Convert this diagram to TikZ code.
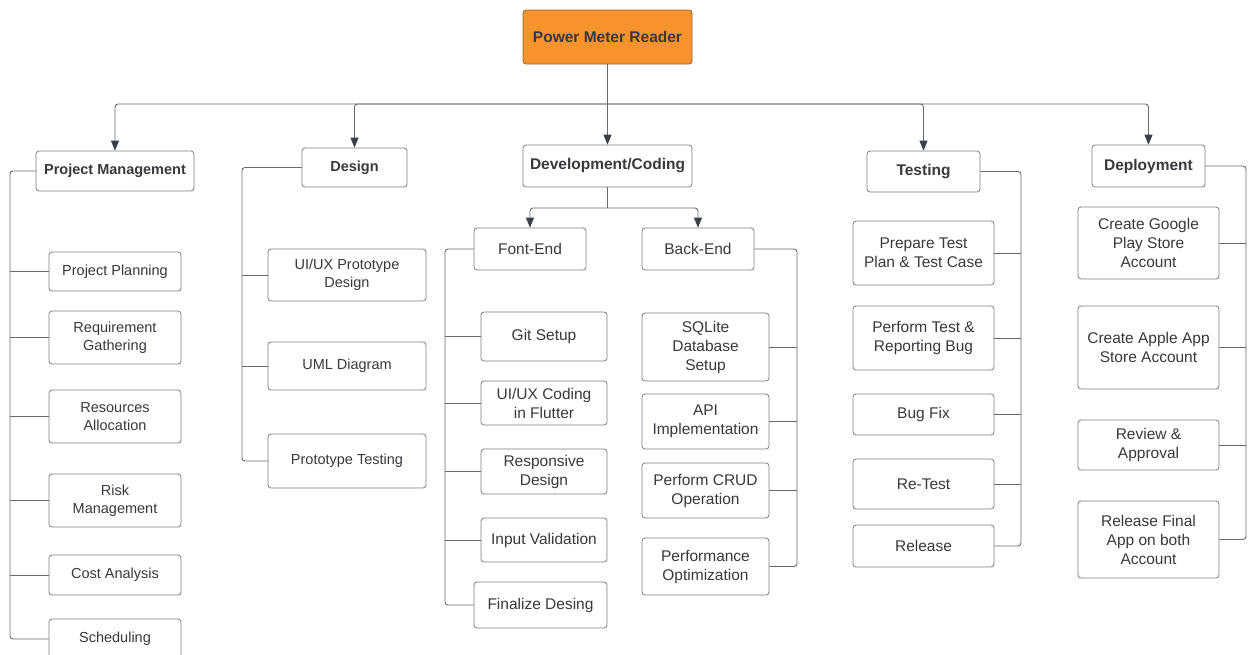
\documentclass[tikz,border=0pt]{standalone}
\usepackage{fontspec}
\setmainfont{Liberation Sans}
\usepackage{tikz}
\usetikzlibrary{arrows.meta}

\definecolor{rootorange}{RGB}{247,147,44}
\definecolor{rootedge}{RGB}{150,95,45}
\definecolor{boxgray}{RGB}{125,125,125}
\definecolor{linegray}{RGB}{105,105,105}
\definecolor{textgray}{RGB}{55,57,62}
\definecolor{tipgray}{RGB}{58,62,70}

\tikzset{
  phasebox/.style={draw=boxgray, line width=0.8pt, rounded corners=3pt, fill=white, text=textgray,
    font=\fontsize{14.5pt}{18pt}\selectfont\bfseries, align=center, inner sep=2pt},
  taskbox/.style={draw=boxgray, line width=0.8pt, rounded corners=3pt, fill=white, text=textgray,
    font=\fontsize{14.5pt}{18pt}\selectfont, align=center, inner sep=2pt},
  bigphase/.style={phasebox, font=\fontsize{15.5pt}{19pt}\selectfont\bfseries},
  bigtask/.style={taskbox, font=\fontsize{15.5pt}{19pt}\selectfont},
  link/.style={draw=linegray, line width=0.9pt, rounded corners=3pt},
  arrowlink/.style={link, -{Triangle[width=8pt,length=10pt,color=tipgray]}},
}

\begin{document}
\begin{tikzpicture}[x=1pt, y=-1pt]
  \clip (0,0) rectangle (1253,654);

  % Root
  \node[bigphase, fill=rootorange, draw=rootedge, minimum width=169pt, minimum height=54pt] (root) at (607.5,37) {Power Meter Reader};

  % Phases
  \node[phasebox, minimum width=158pt, minimum height=40pt] (pm) at (115,171) {Project Management};
  \node[phasebox, minimum width=105pt, minimum height=39pt] (design) at (354.5,167.5) {Design};
  \node[bigphase, minimum width=169pt, minimum height=42pt] (dev) at (607.5,166) {Development/Coding};
  \node[bigphase, minimum width=113pt, minimum height=41pt] (test) at (923.5,171.5) {Testing};
  \node[bigphase, minimum width=113pt, minimum height=42pt] (deploy) at (1148.5,166) {Deployment};

  % Root to phases
  \coordinate (bus) at (607.5,104);
  \draw[link] (root.south) -- (bus);
  \draw[arrowlink] (bus) -- (dev.north);
  \draw[arrowlink] (bus) -| (pm.north);
  \draw[arrowlink] (bus) -| (design.north);
  \draw[arrowlink] (bus) -| (test.north);
  \draw[arrowlink] (bus) -| (deploy.north);

  % Project Management
  \node[taskbox, minimum width=132pt, minimum height=39pt] (pp) at (115,271.5) {Project Planning};
  \node[taskbox, minimum width=132pt, minimum height=53pt] (rg) at (115,337.5) {Requirement\\Gathering};
  \node[taskbox, minimum width=132pt, minimum height=53pt] (ra) at (115,416.5) {Resources\\Allocation};
  \node[taskbox, minimum width=132pt, minimum height=53pt] (rm) at (115,500.5) {Risk\\Management};
  \node[taskbox, minimum width=132pt, minimum height=40pt] (ca) at (115,575) {Cost Analysis};
  \node[taskbox, minimum width=132pt, minimum height=40pt] (sch) at (115,639) {Scheduling};
  \coordinate (pmrail) at (10,0);
  \draw[link] (pm.west) -| (pmrail |- sch.west) -- (sch.west);
  \draw[link] (pmrail |- pp.west) -- (pp.west);
  \draw[link] (pmrail |- rg.west) -- (rg.west);
  \draw[link] (pmrail |- ra.west) -- (ra.west);
  \draw[link] (pmrail |- rm.west) -- (rm.west);
  \draw[link] (pmrail |- ca.west) -- (ca.west);

  % Design
  \node[taskbox, minimum width=158pt, minimum height=52pt] (uxp) at (347,275) {UI/UX Prototype\\Design};
  \node[taskbox, minimum width=158pt, minimum height=48pt] (uml) at (347,366) {UML Diagram};
  \node[taskbox, minimum width=158pt, minimum height=54pt] (ptest) at (347,461) {Prototype Testing};
  \coordinate (desrail) at (242,0);
  \draw[link] (design.west) -| (desrail |- ptest.west) -- (ptest.west);
  \draw[link] (desrail |- uxp.west) -- (uxp.west);
  \draw[link] (desrail |- uml.west) -- (uml.west);

  % Development/Coding
  \node[bigtask, minimum width=112pt, minimum height=42pt] (fe) at (530,249) {Font-End};
  \node[bigtask, minimum width=112pt, minimum height=42pt] (be) at (698,249) {Back-End};
  \coordinate (devbus) at (607.5,208);
  \draw[link] (dev.south) -- (devbus);
  \draw[arrowlink] (devbus) -| (fe.north);
  \draw[arrowlink] (devbus) -| (be.north);

  % Font-End
  \node[bigtask, minimum width=126pt, minimum height=49pt] (git) at (544,336.5) {Git Setup};
  \node[bigtask, minimum width=126pt, minimum height=44pt] (uic) at (544,403) {UI/UX Coding\\in Flutter};
  \node[bigtask, minimum width=126pt, minimum height=45pt] (resp) at (544,471.5) {Responsive\\Design};
  \node[bigtask, minimum width=126pt, minimum height=44pt] (inval) at (544,540) {Input Validation};
  \node[bigtask, minimum width=133pt, minimum height=46pt] (fin) at (540.5,605) {Finalize Desing};
  \coordinate (ferail) at (445,0);
  \draw[link] (fe.west) -| (ferail |- fin.west) -- (fin.west);
  \draw[link] (ferail |- git.west) -- (git.west);
  \draw[link] (ferail |- uic.west) -- (uic.west);
  \draw[link] (ferail |- resp.west) -- (resp.west);
  \draw[link] (ferail |- inval.west) -- (inval.west);

  % Back-End
  \node[bigtask, minimum width=127pt, minimum height=68pt] (sql) at (705.5,347) {SQLite\\Database\\Setup};
  \node[bigtask, minimum width=127pt, minimum height=55pt] (api) at (705.5,421.5) {API\\Implementation};
  \node[bigtask, minimum width=127pt, minimum height=55pt] (crud) at (705.5,490.5) {Perform CRUD\\Operation};
  \node[bigtask, minimum width=127pt, minimum height=57pt] (perf) at (705.5,566.5) {Performance\\Optimization};
  \coordinate (berail) at (797,0);
  \draw[link] (be.east) -| (berail |- perf.east) -- (perf.east);
  \draw[link] (berail |- sql.east) -- (sql.east);
  \draw[link] (berail |- api.east) -- (api.east);
  \draw[link] (berail |- crud.east) -- (crud.east);

  % Testing
  \node[bigtask, minimum width=141pt, minimum height=64pt] (ptp) at (923.5,253) {Prepare Test\\Plan \& Test Case};
  \node[bigtask, minimum width=141pt, minimum height=64pt] (ptr) at (923.5,338) {Perform Test \&\\Reporting Bug};
  \node[bigtask, minimum width=141pt, minimum height=41pt] (bug) at (923.5,414.5) {Bug Fix};
  \node[bigtask, minimum width=141pt, minimum height=50pt] (rt) at (923.5,484) {Re-Test};
  \node[bigtask, minimum width=141pt, minimum height=42pt] (rel) at (923.5,546) {Release};
  \coordinate (testrail) at (1021,0);
  \draw[link] (test.east) -| (testrail |- rel.east) -- (rel.east);
  \draw[link] (testrail |- ptp.east) -- (ptp.east);
  \draw[link] (testrail |- ptr.east) -- (ptr.east);
  \draw[link] (testrail |- bug.east) -- (bug.east);
  \draw[link] (testrail |- rt.east) -- (rt.east);

  % Deployment
  \node[bigtask, minimum width=141pt, minimum height=72pt] (gps) at (1148.5,243) {Create Google\\Play Store\\Account};
  \node[bigtask, minimum width=141pt, minimum height=83pt] (aas) at (1148.5,347.5) {Create Apple App\\Store Account};
  \node[bigtask, minimum width=141pt, minimum height=50pt] (rev) at (1148.5,445) {Review \&\\Approval};
  \node[bigtask, minimum width=141pt, minimum height=77pt] (rfa) at (1148.5,539.5) {Release Final\\App on both\\Account};
  \coordinate (deprail) at (1246,0);
  \draw[link] (deploy.east) -| (deprail |- rfa.east) -- (rfa.east);
  \draw[link] (deprail |- gps.east) -- (gps.east);
  \draw[link] (deprail |- aas.east) -- (aas.east);
  \draw[link] (deprail |- rev.east) -- (rev.east);
\end{tikzpicture}
\end{document}
